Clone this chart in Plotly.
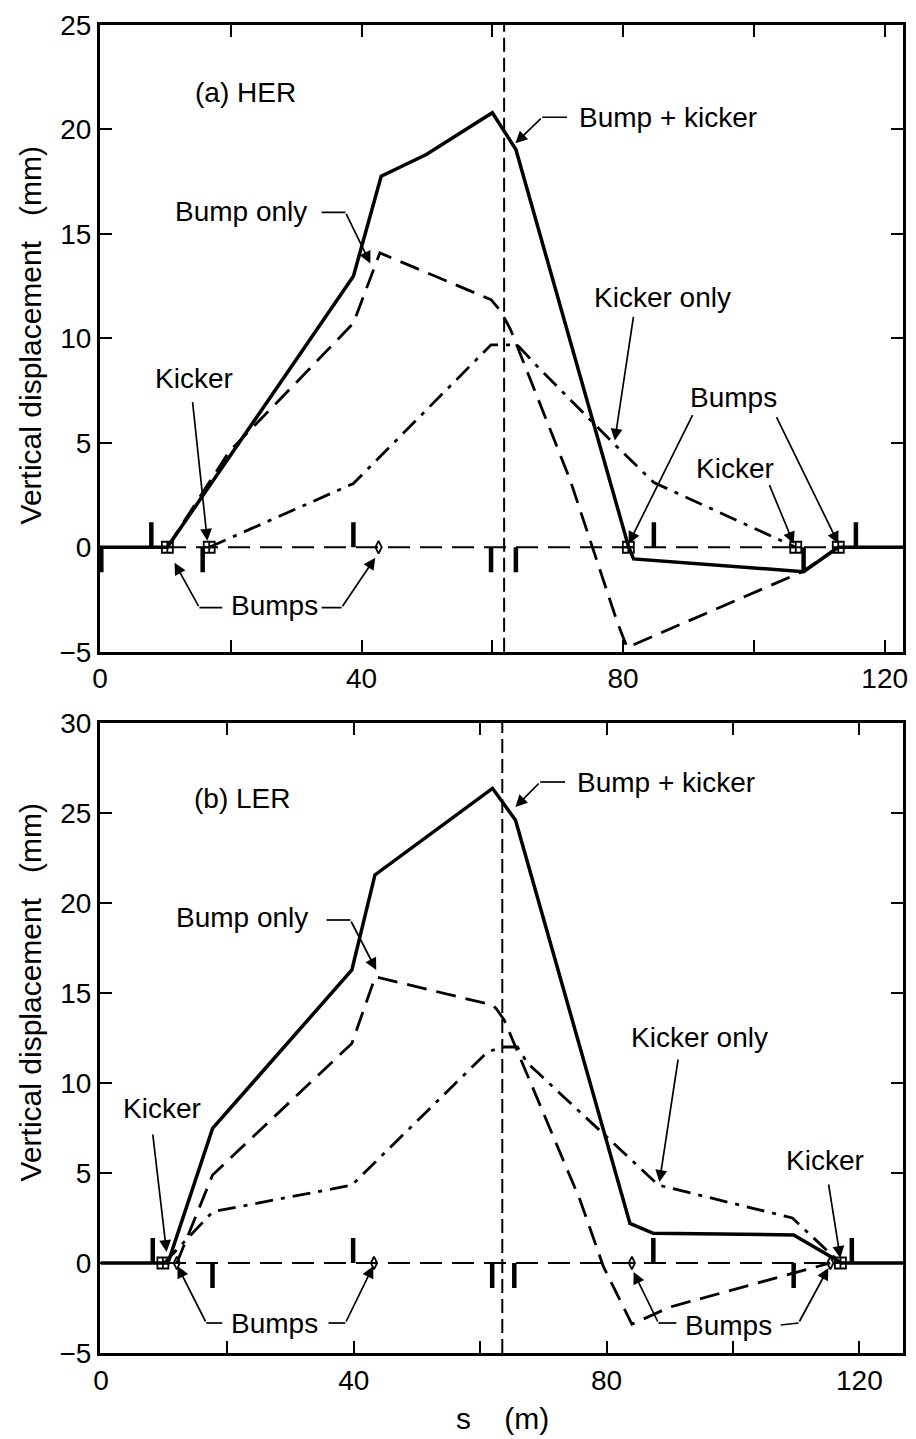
import plotly.graph_objects as go

# ---------------- data : (a) HER ----------------
her_bk_s = [0, 10.3, 38.75, 43.0, 49.9, 60.0, 63.6, 80.85, 81.6, 107.6, 112.9, 122.8]
her_bk_y = [0, 0, 12.97, 17.76, 18.8, 20.8, 19.04, 0.0, -0.56, -1.17, 0, 0]
her_bo_s = [10.3, 19.76, 30.9, 38.75, 42.8, 59.8, 61.3, 62.8, 71.9, 79.0, 80.6, 107.4, 112.9]
her_bo_y = [0, 4.58, 8.17, 10.73, 14.09, 11.85, 11.29, 10.41, 3.22, -3.49, -4.8, -1.17, 0]
her_ko_s = [16.7, 38.75, 59.8, 63.8, 66.9, 78.5, 84.7, 106.4]
her_ko_y = [0, 3.05, 9.69, 9.69, 8.65, 4.98, 3.1, 0]
her_elem_s = [0.2, 7.85, 15.7, 38.75, 59.8, 63.6, 84.7, 107.6, 115.6]
her_elem_dir = [-1, 1, -1, 1, -1, -1, 1, -1, 1]
her_kick_s = [16.7, 106.4]
her_bump_s = [10.3, 80.8, 112.9]
her_thin_bump_s = [42.6]
her_ip_s = 61.8

# ---------------- data : (b) LER ----------------
ler_bk_s = [0, 10.6, 17.66, 39.7, 43.35, 61.95, 65.6, 83.7, 87.4, 109.6, 117.2, 126.9]
ler_bk_y = [0, 0, 7.48, 16.28, 21.56, 26.37, 24.6, 2.2, 1.65, 1.56, 0, 0]
ler_bo_s = [12.0, 17.66, 39.7, 43.4, 61.95, 62.6, 63.8, 75.8, 79.5, 84.0, 90.0, 111.0, 115.4]
ler_bo_y = [0, 4.89, 12.2, 15.9, 14.33, 14.1, 13.5, 3.5, -0.2, -3.4, -2.45, -0.4, 0]
ler_ko_s = [10.0, 17.7, 39.7, 61.2, 63.8, 65.9, 67.5, 88.2, 109.4, 117.0]
ler_ko_y = [0, 2.85, 4.33, 11.74, 12.0, 12.0, 11.1, 4.33, 2.5, 0]
ler_elem_s = [8.2, 17.65, 39.9, 61.9, 65.4, 87.4, 109.6, 118.8]
ler_elem_dir = [1, -1, 1, -1, -1, 1, -1, 1]
ler_kick_s = [9.8, 117.0]
ler_bump_s = []
ler_thin_bump_s = [12.0, 43.2, 84.0, 115.4]
ler_ip_s = 63.5

x_ticks = [0, 20, 40, 60, 80, 100, 120]
x_ticktext = ["0", "", "40", "", "80", "", "120"]

# ---------------- layout / style ----------------
W, H = 916, 1439
ML, MR, MT, MB = 100, 8, 25, 86
FONT = "Liberation Sans, Arial, Helvetica, sans-serif"
FS = 28
TOP_RANGE_X = [0, 122.8]
BOT_RANGE_X = [-0.15, 126.9]
TOP_RANGE_Y = [-5, 25]
BOT_RANGE_Y = [-5, 30]
plot_h = H - MT - MB


def paper_y(py):
    return (H - MB - py) / plot_h


TOP_DOM = [paper_y(651.7), 1.0]
BOT_DOM = [0.0, paper_y(723)]

# pixel -> data helpers for annotation placement
def ptop(px, py):
    return (px - 100) / 6.58, (546.6 - py) / 20.87


def pbot(px, py):
    return (px - 101) / 6.36, (1263 - py) / 18.0


ELEM_PX = 25
top_unit = 20.87
bot_unit = 18.0

fig = go.Figure()


def add_panel(xa, ya, rng, bk_s, bk_y, bo_s, bo_y, ko_s, ko_y, el_s, el_d, kick, bump, thin, unit):
    # design orbit (dashed baseline)
    fig.add_trace(go.Scatter(x=rng, y=[0, 0], mode="lines", xaxis=xa, yaxis=ya,
                             line=dict(color="black", width=2, dash="22px,10px"), showlegend=False))
    # bump only
    fig.add_trace(go.Scatter(x=bo_s, y=bo_y, mode="lines", xaxis=xa, yaxis=ya,
                             line=dict(color="black", width=2.8, dash="20px,10px"), showlegend=False))
    # kicker only
    fig.add_trace(go.Scatter(x=ko_s, y=ko_y, mode="lines", xaxis=xa, yaxis=ya,
                             line=dict(color="black", width=2.8, dash="18px,8px,4px,8px"), showlegend=False))
    # bump + kicker
    fig.add_trace(go.Scatter(x=bk_s, y=bk_y, mode="lines", xaxis=xa, yaxis=ya,
                             line=dict(color="black", width=3.5), showlegend=False))
    # lattice elements
    ex, ey = [], []
    h = ELEM_PX / unit
    for s, d in zip(el_s, el_d):
        ex += [s, s, None]
        ey += [0, d * h, None]
    fig.add_trace(go.Scatter(x=ex, y=ey, mode="lines", xaxis=xa, yaxis=ya,
                             line=dict(color="black", width=4.5), showlegend=False))
    # kickers / bump magnets
    fig.add_trace(go.Scatter(x=kick + bump, y=[0] * (len(kick) + len(bump)), mode="markers",
                             xaxis=xa, yaxis=ya,
                             marker=dict(symbol="square-cross-open", size=11, color="black",
                                         line=dict(width=1.8, color="black")), showlegend=False))
    fig.add_trace(go.Scatter(x=thin, y=[0] * len(thin), mode="markers", xaxis=xa, yaxis=ya,
                             marker=dict(symbol="diamond-tall-open", size=9, color="black",
                                         line=dict(width=1.8, color="black")), showlegend=False))


add_panel("x", "y", TOP_RANGE_X, her_bk_s, her_bk_y, her_bo_s, her_bo_y, her_ko_s, her_ko_y,
          her_elem_s, her_elem_dir, her_kick_s, her_bump_s, her_thin_bump_s, top_unit)
add_panel("x2", "y2", BOT_RANGE_X, ler_bk_s, ler_bk_y, ler_bo_s, ler_bo_y, ler_ko_s, ler_ko_y,
          ler_elem_s, ler_elem_dir, ler_kick_s, ler_bump_s, ler_thin_bump_s, bot_unit)

# IP vertical dashed lines
fig.add_shape(type="line", xref="x", yref="y domain", x0=her_ip_s, x1=her_ip_s, y0=0, y1=1,
              line=dict(color="black", width=2, dash="14px,6px"))
fig.add_shape(type="line", xref="x2", yref="y2 domain", x0=ler_ip_s, x1=ler_ip_s, y0=0, y1=1,
              line=dict(color="black", width=2, dash="14px,6px"))

axis_common = dict(showgrid=False, zeroline=False, showline=True, linewidth=3, linecolor="black",
                   mirror="ticks", ticks="inside", ticklen=12, tickwidth=2, tickcolor="black",
                   tickfont=dict(family=FONT, size=FS, color="black"))

fig.update_layout(
    width=W, height=H, margin=dict(l=ML, r=MR, t=MT, b=MB),
    paper_bgcolor="white", plot_bgcolor="white", showlegend=False,
    xaxis=dict(domain=[0, 1], range=TOP_RANGE_X, anchor="y", tickvals=x_ticks, ticktext=x_ticktext, **axis_common),
    yaxis=dict(domain=TOP_DOM, range=TOP_RANGE_Y, anchor="x", dtick=5, **axis_common),
    xaxis2=dict(domain=[0, 1], range=BOT_RANGE_X, anchor="y2", tickvals=x_ticks, ticktext=x_ticktext, **axis_common),
    yaxis2=dict(domain=BOT_DOM, range=BOT_RANGE_Y, anchor="x2", dtick=5, **axis_common),
)

annots = []
shapes = []


def text(xr, yr, xy, s):
    annots.append(dict(xref=xr, yref=yr, x=xy[0], y=xy[1], text=s, showarrow=False,
                       xanchor="left", yanchor="middle",
                       font=dict(family=FONT, size=FS, color="black")))


def arrow(xr, yr, tail, head):
    annots.append(dict(xref=xr, yref=yr, axref=xr, ayref=yr, x=head[0], y=head[1],
                       ax=tail[0], ay=tail[1], text="", showarrow=True, arrowhead=2,
                       arrowsize=1.4, arrowwidth=1.7, arrowcolor="black", standoff=0, startstandoff=0))


def seg(xr, yr, a, b):
    shapes.append(dict(type="line", xref=xr, yref=yr, x0=a[0], y0=a[1], x1=b[0], y1=b[1],
                       line=dict(color="black", width=1.7)))


# ---- top panel annotations ----
T = ("x", "y")
text(*T, ptop(194, 92), "(a) HER")
text(*T, ptop(580, 117), "Bump + kicker")
seg(*T, ptop(570, 117), ptop(545, 117)); arrow(*T, ptop(545, 117), ptop(518, 143))
text(*T, ptop(173, 211), "Bump only")
seg(*T, ptop(323, 212), ptop(347, 212)); arrow(*T, ptop(347, 212), ptop(372, 263))
text(*T, ptop(153, 378), "Kicker")
arrow(*T, ptop(193, 400), ptop(208, 540))
text(*T, ptop(230, 605), "Bumps")
seg(*T, ptop(223, 607), ptop(200, 607)); arrow(*T, ptop(200, 607), ptop(175, 562))
seg(*T, ptop(323, 607), ptop(343, 607)); arrow(*T, ptop(343, 607), ptop(377, 557))
text(*T, ptop(595, 297), "Kicker only")
arrow(*T, ptop(637, 315), ptop(618, 440))
text(*T, ptop(692, 397), "Bumps")
arrow(*T, ptop(697, 413), ptop(632, 543))
arrow(*T, ptop(780, 415), ptop(843, 543))
text(*T, ptop(698, 468), "Kicker")
arrow(*T, ptop(773, 483), ptop(798, 543))

# ---- bottom panel annotations ----
B = ("x2", "y2")
text(*B, pbot(193, 798), "(b) LER")
text(*B, pbot(578, 782), "Bump + kicker")
seg(*B, pbot(568, 782), pbot(543, 782)); arrow(*B, pbot(543, 782), pbot(518, 807))
text(*B, pbot(175, 917), "Bump only")
seg(*B, pbot(328, 920), pbot(352, 920)); arrow(*B, pbot(352, 920), pbot(378, 970))
text(*B, pbot(632, 1037), "Kicker only")
arrow(*B, pbot(682, 1058), pbot(663, 1182))
text(*B, pbot(788, 1160), "Kicker")
arrow(*B, pbot(833, 1183), pbot(845, 1258))
text(*B, pbot(121, 1108), "Kicker")
arrow(*B, pbot(153, 1133), pbot(167, 1252))
text(*B, pbot(230, 1323), "Bumps")
seg(*B, pbot(223, 1323), pbot(207, 1323)); arrow(*B, pbot(207, 1323), pbot(178, 1266))
seg(*B, pbot(330, 1323), pbot(347, 1323)); arrow(*B, pbot(347, 1323), pbot(375, 1266))
text(*B, pbot(687, 1325), "Bumps")
seg(*B, pbot(680, 1323), pbot(662, 1323)); arrow(*B, pbot(662, 1323), pbot(637, 1272))
seg(*B, pbot(785, 1325), pbot(803, 1323)); arrow(*B, pbot(803, 1323), pbot(833, 1268))

# axis titles
TFS = 30
annots.append(dict(xref="paper", yref="paper", x=(30 - ML) / (W - ML - MR), y=paper_y(335),
                   text="Vertical displacement\u00a0\u00a0\u00a0(mm)", textangle=-90, showarrow=False,
                   xanchor="center", yanchor="middle", font=dict(family=FONT, size=TFS, color="black")))
annots.append(dict(xref="paper", yref="paper", x=(30 - ML) / (W - ML - MR), y=paper_y(992),
                   text="Vertical displacement\u00a0\u00a0\u00a0(mm)", textangle=-90, showarrow=False,
                   xanchor="center", yanchor="middle", font=dict(family=FONT, size=TFS, color="black")))
annots.append(dict(xref="paper", yref="paper", x=(505 - ML) / (W - ML - MR), y=paper_y(1418),
                   text="s\u00a0\u00a0\u00a0\u00a0(m)", showarrow=False,
                   xanchor="center", yanchor="middle", font=dict(family=FONT, size=TFS, color="black")))

fig.update_layout(annotations=annots, shapes=list(fig.layout.shapes) + shapes)

fig.write_html("out.html")
